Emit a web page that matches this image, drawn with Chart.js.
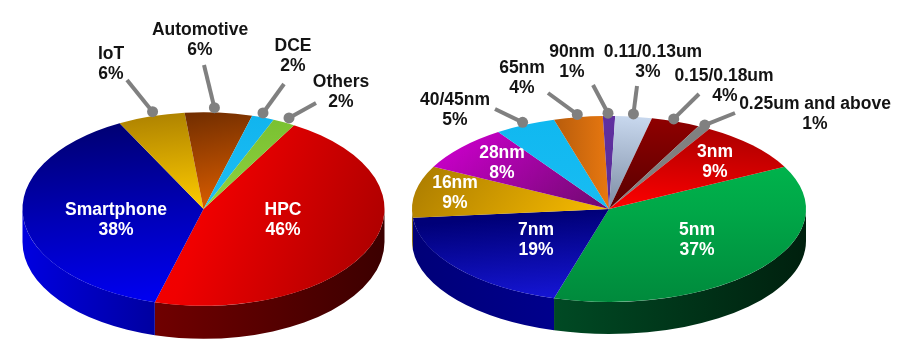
<!DOCTYPE html>
<html>
<head>
<meta charset="utf-8">
<style>
  html, body { margin: 0; padding: 0; background: #fff; overflow: hidden; }
  #wrap { position: relative; width: 900px; height: 359px; }
  canvas { position: absolute; top: 0; }
</style>
</head>
<body>
<div id="wrap">
  <canvas id="platform" width="400" height="359" style="left:0"></canvas>
  <canvas id="node" width="500" height="359" style="left:400px"></canvas>
</div>
<script src="https://cdn.jsdelivr.net/npm/chart.js@4"></script>
<script>
// ---- data ----
const platformNames = ['HPC', 'Smartphone', 'IoT', 'Automotive', 'DCE', 'Others'];
const platformValues = [46, 38, 6, 6, 2, 2];

const nodeNames = ['5nm', '7nm', '16nm', '28nm', '40/45nm', '65nm', '90nm', '0.11/0.13um', '0.15/0.18um', '0.25um and above', '3nm'];
const nodeValues = [37, 19, 9, 8, 5, 4, 1, 3, 4, 1, 9];

// ---- slice colours: tone at far side, at centre, at near side + gradient direction (deg) ----
const platformFrom = ['#ff0000', '#000070', '#b08400', '#6e2c00', '#10b4ee', '#78c030'];
const platformMid = ['#f00000', '#0000b8', '#ffcc00', '#d85c00', '#20bef4', '#90d040'];
const platformTo = ['#b00000', '#0000f8', '#ffcc00', '#d85c00', '#20bef4', '#90d040'];
const platformDir = [10, 80, 80, 70, 90, 90];
const platformWallFrom = ['#3c0000', '#0000a0', '#000', '#000', '#000', '#000'];
const platformWallTo = ['#700000', '#0000e0', '#000', '#000', '#000', '#000'];

const nodeFrom = ['#00c050', '#000070', '#b08000', '#c400c4', '#10b8f0', '#3a1400', '#6030a0', '#c8d8ee', '#900000', '#808080', '#a80000'];
const nodeMid = ['#00a848', '#000078', '#f8bc00', '#6e0a6e', '#18bcf2', '#e87810', '#5a2c98', '#7c8ca4', '#580000', '#808080', '#ff0000'];
const nodeTo = ['#008a3c', '#1818e0', '#f8bc00', '#6e0a6e', '#18bcf2', '#e87810', '#5a2c98', '#7c8ca4', '#580000', '#808080', '#ff0000'];
const nodeDir = [90, 80, 20, 30, 90, 0, 90, 100, 90, 90, 100];
const nodeWallFrom = ['#00200e', '#00008c', '#806000', '#000', '#000', '#000', '#000', '#000', '#000', '#000', '#000'];
const nodeWallTo = ['#004a24', '#000078', '#806000', '#000', '#000', '#000', '#000', '#000', '#000', '#000', '#000'];

// ---- label layout, canvas px; null leader = label sits on the slice ----
const platformLabelX = [283, 116, 111, 200, 293, 341];
const platformLabelY = [210, 210, 54, 30, 46, 82];
const platformPctShift = [0, 0, 0, 0, 0, 0];
const platformLeaderX = [null, null, 127, 204, 284, 316];
const platformLeaderY = [null, null, 80, 65, 84, 103];
const platformDotShift = [0, 0, 4, -5, -3, 1];

const nodeLabelX = [297, 136, 55, 102, 55, 122, 172, 253, 324, 415, 315];
const nodeLabelY = [230, 230, 183, 153, 100, 68, 52, 52, 76, 104, 152];
const nodePctShift = [0, 0, 0, 0, 0, 0, 0, -5, 1, 0, 0];
const nodeLeaderX = [null, null, null, null, 95, 148, 193, 237, 299, 335, null];
const nodeLeaderY = [null, null, null, null, 109, 93, 85, 86, 94, 113, null];
const nodeDotShift = [0, 0, 0, 0, 0, 0, -1, -1, -4, -2, 0];

const LINE_GAP = 20.5;
const FONT = 'bold 17.5px "Liberation Sans", Arial, sans-serif';

// squashes the round pie into a tilted ellipse and adds the side wall
const pie3d = {
  id: 'pie3d',
  beforeDatasetsDraw(chart, args, o) {
    const ctx = chart.ctx;
    const arcs = chart.getDatasetMeta(0).data;
    const r = arcs[0].outerRadius;

    // side wall, only the lower half of the ellipse can be seen
    arcs.forEach((arc, i) => {
      const a0 = Math.max(arc.startAngle, 0), a1 = Math.min(arc.endAngle, Math.PI);
      const wrap0 = arc.startAngle - Math.PI * 2, wrap1 = arc.endAngle - Math.PI * 2;
      [[a0, a1], [Math.max(wrap0, 0), Math.min(wrap1, Math.PI)]].forEach(([s, e]) => {
        if (e <= s) return;
        const grad = ctx.createLinearGradient(o.cx + r * Math.cos(s), 0, o.cx + r * Math.cos(e), 0);
        grad.addColorStop(0, o.wallFrom[i]);
        grad.addColorStop(1, o.wallTo[i]);
        ctx.beginPath();
        ctx.ellipse(o.cx, o.cy + o.depth, r, r * o.squash, 0, s, e);
        ctx.ellipse(o.cx, o.cy, r, r * o.squash, 0, e, s, true);
        ctx.closePath();
        ctx.fillStyle = grad;
        ctx.fill();
      });
    });

    ctx.save();
    ctx.translate(o.cx, o.cy);
    ctx.scale(1, o.squash);
    ctx.translate(-arcs[0].x, -arcs[0].y);
  },
  afterDatasetsDraw(chart, args, o) {
    const ctx = chart.ctx;
    ctx.restore();

    const arcs = chart.getDatasetMeta(0).data;
    const names = chart.data.labels;
    const vals = chart.data.datasets[0].data;

    arcs.forEach((arc, i) => {
      if (o.leaderX[i] === null) return;
      const mid = (arc.startAngle + arc.endAngle) / 2;
      const px = o.cx + arc.outerRadius * o.reach * Math.cos(mid) + o.dotShift[i];
      const py = o.cy + arc.outerRadius * o.squash * o.reach * Math.sin(mid);
      ctx.beginPath();
      ctx.moveTo(o.leaderX[i], o.leaderY[i]);
      ctx.lineTo(px, py);
      ctx.strokeStyle = '#808080';
      ctx.lineWidth = 4;
      ctx.stroke();
      ctx.beginPath();
      ctx.arc(px, py, 5.5, 0, Math.PI * 2);
      ctx.fillStyle = '#808080';
      ctx.fill();
    });

    ctx.font = FONT;
    ctx.textAlign = 'center';
    ctx.textBaseline = 'middle';
    names.forEach((name, i) => {
      ctx.fillStyle = o.leaderX[i] === null ? '#fff' : '#141414';
      ctx.fillText(name, o.labelX[i], o.labelY[i]);
      ctx.fillText(vals[i] + '%', o.labelX[i] + o.pctShift[i], o.labelY[i] + LINE_GAP);
    });
  }
};

function makePie(id, names, values, startDeg, radius, from, mid, to, dir, opts) {
  new Chart(document.getElementById(id), {
    type: 'pie',
    plugins: [pie3d],
    data: {
      labels: names,
      datasets: [{
        data: values,
        radius: radius,
        borderWidth: 0,
        backgroundColor(c) {
          const chart = c.chart;
          if (!chart.chartArea || c.dataIndex === undefined) return from[0];
          const x = (chart.chartArea.left + chart.chartArea.right) / 2;
          const y = (chart.chartArea.top + chart.chartArea.bottom) / 2;
          const a = dir[c.dataIndex] * Math.PI / 180;
          const dx = radius * Math.cos(a), dy = radius * Math.sin(a);
          const g = chart.ctx.createLinearGradient(x - dx, y - dy, x + dx, y + dy);
          g.addColorStop(0, from[c.dataIndex]);
          g.addColorStop(0.5, mid[c.dataIndex]);
          g.addColorStop(1, to[c.dataIndex]);
          return g;
        }
      }]
    },
    options: {
      responsive: false,
      animation: false,
      rotation: startDeg,
      events: [],
      plugins: { legend: { display: false }, tooltip: { enabled: false }, pie3d: opts }
    }
  });
}

makePie('platform', platformNames, platformValues, 30, 181, platformFrom, platformMid, platformTo, platformDir, {
  cx: 203.5, cy: 209, squash: 0.535, depth: 33, reach: 1.05,
  wallFrom: platformWallFrom, wallTo: platformWallTo,
  labelX: platformLabelX, labelY: platformLabelY, pctShift: platformPctShift,
  leaderX: platformLeaderX, leaderY: platformLeaderY, dotShift: platformDotShift
});

makePie('node', nodeNames, nodeValues, 63, 197, nodeFrom, nodeMid, nodeTo, nodeDir, {
  cx: 209, cy: 209, squash: 0.472, depth: 32, reach: 1.03,
  wallFrom: nodeWallFrom, wallTo: nodeWallTo,
  labelX: nodeLabelX, labelY: nodeLabelY, pctShift: nodePctShift,
  leaderX: nodeLeaderX, leaderY: nodeLeaderY, dotShift: nodeDotShift
});
</script>
</body>
</html>
